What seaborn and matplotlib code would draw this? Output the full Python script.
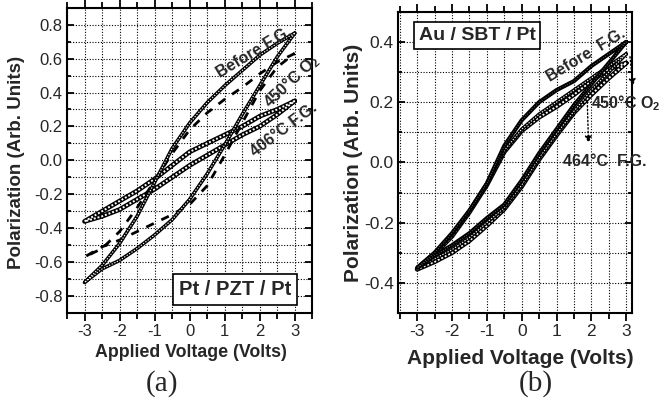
import matplotlib
matplotlib.use("Agg")
import matplotlib.pyplot as plt
import seaborn as sns
import pandas as pd
from matplotlib.ticker import MultipleLocator, FormatStrFormatter

# ---------------- data ----------------
V_down = [3, 2.5, 2, 1.5, 1, 0.5, 0, -0.5, -1, -1.5, -2, -2.5, -3]
V_up = [-3, -2.5, -2, -1.5, -1, -0.5, 0, 0.5, 1, 1.5, 2, 2.5, 3]

# (a) Pt / PZT / Pt
a_before_down = [0.75, 0.69, 0.62, 0.53, 0.44, 0.34, 0.22, 0.07, -0.13, -0.33, -0.49, -0.62, -0.72]
a_before_up = [-0.72, -0.64, -0.59, -0.52, -0.44, -0.35, -0.23, -0.08, 0.09, 0.27, 0.44, 0.61, 0.75]
a_450_down = [0.63, 0.58, 0.51, 0.43, 0.36, 0.28, 0.18, 0.04, -0.12, -0.28, -0.42, -0.52, -0.57]
a_450_up = [-0.57, -0.51, -0.47, -0.42, -0.37, -0.32, -0.26, -0.15, 0.03, 0.22, 0.41, 0.55, 0.63]
a_406_down = [0.35, 0.30, 0.26, 0.20, 0.15, 0.10, 0.05, -0.03, -0.11, -0.18, -0.24, -0.30, -0.36]
a_406_up = [-0.36, -0.33, -0.29, -0.23, -0.17, -0.10, -0.03, 0.03, 0.09, 0.15, 0.20, 0.27, 0.35]

# (b) Au / SBT / Pt
b_before_down = [0.40, 0.36, 0.32, 0.27, 0.24, 0.20, 0.14, 0.055, -0.07, -0.16, -0.235, -0.30, -0.35]
b_before_up = [-0.35, -0.31, -0.275, -0.235, -0.185, -0.14, -0.06, 0.03, 0.11, 0.19, 0.26, 0.33, 0.40]
b_450_down = [0.36, 0.32, 0.28, 0.24, 0.20, 0.16, 0.11, 0.04, -0.07, -0.16, -0.24, -0.30, -0.35]
b_450_up = [-0.35, -0.32, -0.29, -0.25, -0.20, -0.15, -0.075, 0.015, 0.095, 0.17, 0.24, 0.30, 0.36]
b_464_down = [0.33, 0.31, 0.27, 0.225, 0.185, 0.15, 0.105, 0.035, -0.075, -0.165, -0.245, -0.305, -0.355]
b_464_up = [-0.355, -0.33, -0.30, -0.26, -0.21, -0.155, -0.08, 0.01, 0.09, 0.165, 0.225, 0.28, 0.33]

xticks = [-3, -2, -1, 0, 1, 2, 3]
a_yticks = [-0.8, -0.6, -0.4, -0.2, 0.0, 0.2, 0.4, 0.6, 0.8]
b_yticks = [-0.4, -0.2, 0.0, 0.2, 0.4]


def loop_df(down, up, name):
    return pd.DataFrame({"V": V_down + V_up, "P": down + up, "loop": name})


df_a = pd.concat([loop_df(a_before_down, a_before_up, "before"),
                  loop_df(a_450_down, a_450_up, "450"),
                  loop_df(a_406_down, a_406_up, "406")], ignore_index=True)
df_b = pd.concat([loop_df(b_before_down, b_before_up, "before"),
                  loop_df(b_450_down, b_450_up, "450"),
                  loop_df(b_464_down, b_464_up, "464")], ignore_index=True)

# ---------------- style ----------------
sns.set_theme(style="white")
plt.rcParams["font.family"] = ["Liberation Sans", "DejaVu Sans"]
plt.rcParams["axes.unicode_minus"] = False
plt.rcParams["mathtext.fontset"] = "custom"
plt.rcParams["mathtext.rm"] = "Liberation Sans:bold"
plt.rcParams["mathtext.it"] = "Liberation Sans:bold"
plt.rcParams["mathtext.bf"] = "Liberation Sans:bold"

fig = plt.figure(figsize=(6.7, 4.07), dpi=100)
axa = fig.add_axes([0.100, 0.231, 0.366, 0.750])
axb = fig.add_axes([0.594, 0.231, 0.349, 0.740])


def draw(ax, d, name, kind):
    sub = d[d["loop"] == name]
    if kind == "solid":
        sns.lineplot(data=sub, x="V", y="P", sort=False, estimator=None, ax=ax,
                     color="black", lw=3.0, legend=False)
        sns.lineplot(data=sub, x="V", y="P", sort=False, estimator=None, ax=ax,
                     color="white", lw=0.5, linestyle=(0, (0.6, 3.0)), legend=False)
    elif kind == "chain":
        sns.lineplot(data=sub, x="V", y="P", sort=False, estimator=None, ax=ax,
                     color="black", lw=2.6, legend=False)
        sns.lineplot(data=sub, x="V", y="P", sort=False, estimator=None, ax=ax,
                     color="white", lw=0.8, linestyle=(0, (1.2, 1.4)), legend=False)
    elif kind == "bigchain":
        sns.lineplot(data=sub, x="V", y="P", sort=False, estimator=None, ax=ax,
                     color="black", lw=3.4, legend=False)
        sns.lineplot(data=sub, x="V", y="P", sort=False, estimator=None, ax=ax,
                     color="white", lw=1.4, linestyle=(0, (1.0, 1.0)), legend=False)
    elif kind == "dashed":
        sns.lineplot(data=sub, x="V", y="P", sort=False, estimator=None, ax=ax,
                     color="black", lw=2.0, linestyle=(0, (3.0, 3.0)), legend=False)


draw(axa, df_a, "406", "bigchain")
draw(axa, df_a, "450", "dashed")
draw(axa, df_a, "before", "chain")

draw(axb, df_b, "464", "bigchain")
draw(axb, df_b, "450", "chain")
draw(axb, df_b, "before", "solid")


def style_axes(ax, ylim, yticks, xlim, fs):
    ax.set_xlim(*xlim)
    ax.set_ylim(*ylim)
    ax.set_xticks(xticks)
    ax.set_yticks(yticks)
    ax.xaxis.set_minor_locator(MultipleLocator(0.5))
    ax.yaxis.set_minor_locator(MultipleLocator(0.1))
    ax.yaxis.set_major_formatter(FormatStrFormatter("%.1f"))
    ax.grid(True, which="both", color="black", linestyle=(0, (1, 1.5)), lw=0.8)
    ax.set_axisbelow(True)
    for s in ax.spines.values():
        s.set_visible(True)
        s.set_color("black")
        s.set_linewidth(1.5)
    ax.tick_params(axis="x", which="both", bottom=True, top=True, direction="out",
                   color="black", width=1.3, labelsize=fs, pad=2)
    ax.tick_params(axis="x", which="major", length=6)
    ax.tick_params(axis="x", which="minor", length=4)
    ax.tick_params(axis="x", which="both", top=True, labeltop=False)
    ax.tick_params(axis="y", which="both", left=True, right=True, direction="in",
                   color="black", width=1.3, labelsize=fs, pad=3)
    ax.tick_params(axis="y", which="major", length=5)
    ax.tick_params(axis="y", which="minor", length=3)
    ax.set_xlabel("")
    ax.set_ylabel("")


style_axes(axa, (-0.9, 0.9), a_yticks, (-3.5, 3.5), 12)
style_axes(axb, (-0.5, 0.5), b_yticks, (-3.55, 3.16), 12.5)

# axis labels
fig.text(0.285, 0.135, "Applied Voltage (Volts)", ha="center", va="center",
         fontsize=12.8, fontweight="bold")
fig.text(0.777, 0.12, "Applied Voltage (Volts)", ha="center", va="center",
         fontsize=15, fontweight="bold")
fig.text(0.025, 0.6, "Polarization (Arb. Units)", ha="center", va="center",
         rotation=90, fontsize=13.5, fontweight="bold")
fig.text(0.527, 0.6, "Polarization (Arb. Units)", ha="center", va="center",
         rotation=90, fontsize=15, fontweight="bold")

# panel letters
fig.text(0.242, 0.058, "(a)", ha="center", va="center", fontsize=21,
         family=["Liberation Serif", "DejaVu Serif"])
fig.text(0.800, 0.058, "(b)", ha="center", va="center", fontsize=21,
         family=["Liberation Serif", "DejaVu Serif"])

# sample boxes
axa.text(1.3, -0.76, "Pt / PZT / Pt", ha="center", va="center", fontsize=14.5,
         fontweight="bold", zorder=5,
         bbox=dict(boxstyle="square,pad=0.3", fc="white", ec="black", lw=1.2))
axb.text(-1.28, 0.422, "Au / SBT / Pt", ha="center", va="center", fontsize=14,
         fontweight="bold", zorder=5,
         bbox=dict(boxstyle="square,pad=0.25", fc="white", ec="black", lw=1.2))

# curve labels (a)
axa.text(1.85, 0.64, "Before F.G.", rotation=31, ha="center", va="center",
         fontsize=11.5, fontweight="bold", zorder=6)
axa.text(2.9, 0.47, "450°C O$_2$", rotation=43, ha="center", va="center",
         fontsize=11.5, fontweight="bold", zorder=6, clip_on=False)
axa.text(2.7, 0.18, "406°C F.G.", rotation=37, ha="center", va="center",
         fontsize=11.5, fontweight="bold", zorder=6, clip_on=False)

# curve labels (b)
axb.text(1.85, 0.355, "Before  F.G.", rotation=31, ha="center", va="center",
         fontsize=11.5, fontweight="bold", zorder=6)
axb.text(2.98, 0.198, "450°C O$_2$", ha="center", va="center",
         fontsize=11.5, fontweight="bold", zorder=6, clip_on=False)
axb.text(2.38, 0.003, "464°C  F.G.", ha="center", va="center",
         fontsize=11.5, fontweight="bold", zorder=6, clip_on=False)
axb.annotate("", xy=(3.2, 0.245), xytext=(3.1, 0.36),
             arrowprops=dict(arrowstyle="-|>", color="black", lw=1.0,
                             linestyle=":", mutation_scale=10),
             annotation_clip=False)
axb.annotate("", xy=(1.92, 0.055), xytext=(1.88, 0.21),
             arrowprops=dict(arrowstyle="-|>", color="black", lw=1.0,
                             linestyle=":", mutation_scale=10),
             annotation_clip=False)

fig.savefig("out.png", dpi=100, facecolor="white")
